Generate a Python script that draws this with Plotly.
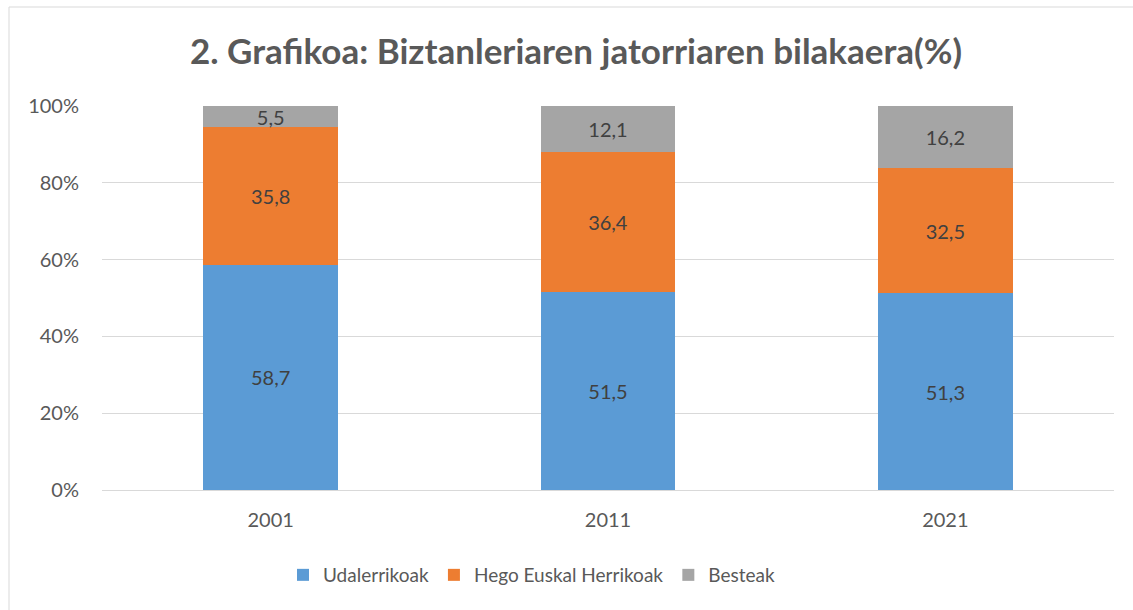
import plotly.graph_objects as go

# Census years and the share of population by place of origin (%)
years = ["2001", "2011", "2021"]
udalerrikoak = [58.7, 51.5, 51.3]
hego_euskal_herrikoak = [35.8, 36.4, 32.5]
besteak = [5.5, 12.1, 16.2]

# Percentage axis
y_tick_values = [0, 20, 40, 60, 80, 100]
y_tick_labels = ["0%", "20%", "40%", "60%", "80%", "100%"]

series = [
    ("Udalerrikoak", udalerrikoak, "#5B9BD5"),
    ("Hego Euskal Herrikoak", hego_euskal_herrikoak, "#ED7D31"),
    ("Besteak", besteak, "#A5A5A5"),
]

FONT = "Lato"
TEXT = "#595959"

fig = go.Figure()
for name, vals, color in series:
    fig.add_trace(go.Bar(
        name=name,
        x=years,
        y=vals,
        marker=dict(color=color, line=dict(width=0)),
        texttemplate="%{y:.1f}",
        textposition="inside",
        insidetextanchor="middle",
        constraintext="none",
        textfont=dict(family=FONT, size=20, color="#404040"),
    ))

W, H = 1133, 610
L, R, T, B = 102, 19, 106, 120
pw, ph = W - L - R, H - T - B


def px(x):
    return (x - L) / pw


def py(y):
    return (H - B - y) / ph


fig.update_layout(
    width=W,
    height=H,
    margin=dict(l=L, r=R, t=T, b=B),
    barmode="stack",
    bargap=0.6,
    separators=",.",
    paper_bgcolor="white",
    plot_bgcolor="white",
    font=dict(family=FONT, size=20, color=TEXT),
    title=dict(
        text="<b>2. Grafikoa: Biztanleriaren jatorriaren bilakaera(%)</b>",
        x=576 / W,
        xanchor="center",
        y=1 - 52 / H,
        yanchor="middle",
        font=dict(family=FONT, size=35, color=TEXT),
    ),
    legend=dict(
        orientation="h",
        x=px(283),
        xanchor="left",
        y=py(575),
        yanchor="middle",
        font=dict(family=FONT, size=19, color=TEXT),
        traceorder="normal",
    ),
    showlegend=True,
    xaxis=dict(
        showgrid=False,
        showline=True,
        linecolor="#D9D9D9",
        linewidth=1,
        ticks="",
        ticklabelstandoff=12,
        tickfont=dict(family=FONT, size=20, color=TEXT),
    ),
    yaxis=dict(
        range=[0, 100],
        tickmode="array",
        tickvals=y_tick_values,
        ticktext=y_tick_labels,
        showgrid=True,
        gridcolor="#D9D9D9",
        gridwidth=1,
        zeroline=False,
        showline=False,
        ticks="",
        ticklabelstandoff=22,
        tickfont=dict(family=FONT, size=20, color=TEXT),
    ),
    shapes=[
        dict(
            type="rect",
            xref="paper",
            yref="paper",
            x0=px(9),
            x1=px(1145),
            y0=py(620),
            y1=py(7),
            line=dict(color="#D9D9D9", width=1),
            fillcolor="rgba(0,0,0,0)",
            layer="below",
        )
    ],
)

fig.write_html("out.html")
